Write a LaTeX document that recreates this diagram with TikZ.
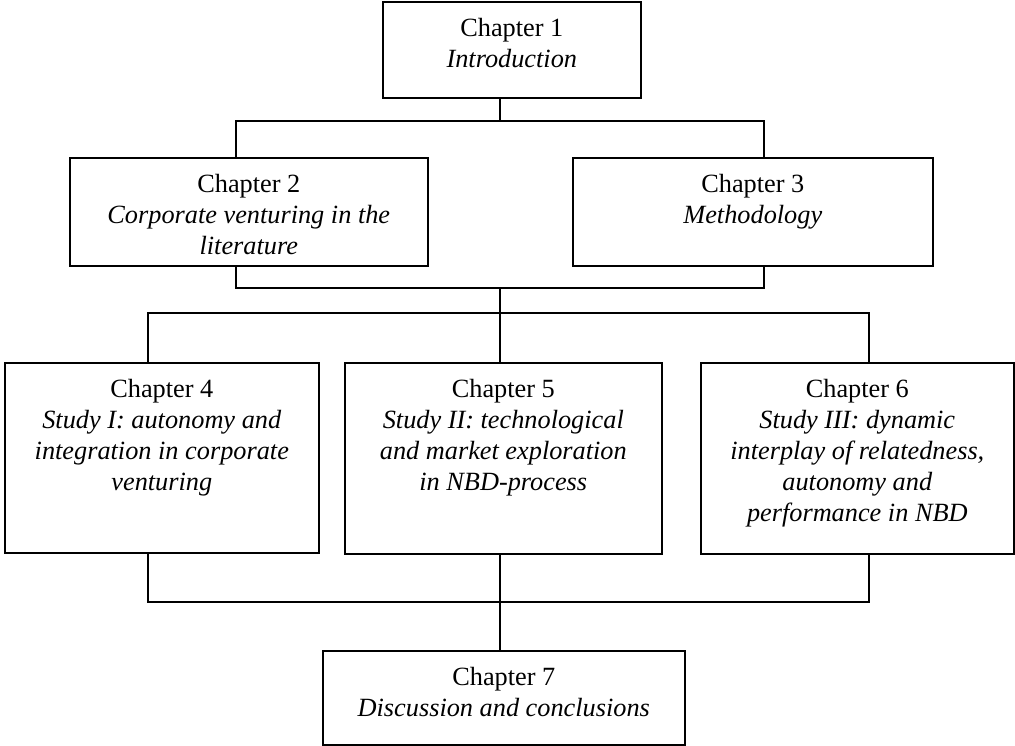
\documentclass[tikz,border=0pt]{standalone}
\usepackage{fontspec}
\setmainfont{Liberation Serif}
\usetikzlibrary{calc}

% Text block of a chapter box: top-aligned, centred lines, first baseline 35pt below the top
\newcommand{\chapblock}[3]{\parbox[c][#2][t]{#1}{\centering\rule{0pt}{35pt}#3}}

\begin{document}
\begin{tikzpicture}[x=1pt,y=-1pt,
  chbox/.style={draw=black, line width=1.6pt, inner sep=0pt, anchor=north west,
    font=\fontsize{26.3}{31}\selectfont},
  link/.style={draw=black, line width=1.6pt, line join=miter}]
\useasboundingbox (0,0) rectangle (1015,745);

% chapter boxes
\node[chbox] (b1) at (382,1)   {\chapblock{258pt}{96pt}{Chapter 1\\\textit{Introduction}}};
\node[chbox] (b2) at (69,157)  {\chapblock{358pt}{108pt}{Chapter 2\\\textit{Corporate venturing in the}\\\textit{literature}}};
\node[chbox] (b3) at (572,157) {\chapblock{360pt}{108pt}{Chapter 3\\\textit{Methodology}}};
\node[chbox] (b4) at (4,362)   {\chapblock{314pt}{190pt}{Chapter 4\\\textit{Study I: autonomy and}\\\textit{integration in corporate}\\\textit{venturing}}};
\node[chbox] (b5) at (344,362) {\chapblock{317pt}{191pt}{Chapter 5\\\textit{Study II: technological}\\\textit{and market exploration}\\\textit{in NBD-process}}};
\node[chbox] (b6) at (700,362) {\chapblock{313pt}{191pt}{Chapter 6\\\textit{Study III: dynamic}\\\textit{interplay of relatedness,}\\\textit{autonomy and}\\\textit{performance in NBD}}};
\node[chbox] (b7) at (322,650) {\chapblock{362pt}{94pt}{Chapter 7\\\textit{Discussion and conclusions}}};

% junction points of the tree
\coordinate (mid) at (500,0);
\coordinate (t1) at (236,121);
\coordinate (t2) at (764,121);
\coordinate (m1) at (236,288);
\coordinate (m2) at (764,288);
\coordinate (u1) at (148,313);
\coordinate (u2) at (869,313);
\coordinate (l1) at (148,602);
\coordinate (l2) at (869,602);

% chapter 1 to chapters 2 and 3
\draw[link] (b1.south -| mid) -- (mid |- t1);
\draw[link] (b2.north -| t1) -- (t1) -- (t2) -- (b3.north -| t2);
% chapters 2 and 3 joined
\draw[link] (b2.south -| t1) -- (m1) -- (m2) -- (b3.south -| t2);
\draw[link] (mid |- m1) -- (mid |- u1);
% branch to the three studies
\draw[link] (b4.north -| u1) -- (u1) -- (u2) -- (b6.north -| u2);
\draw[link] (mid |- u1) -- (b5.north -| mid);
% studies joined into chapter 7
\draw[link] (b4.south -| l1) -- (l1) -- (l2) -- (b6.south -| l2);
\draw[link] (b5.south -| mid) -- (b7.north -| mid);
\end{tikzpicture}
\end{document}
